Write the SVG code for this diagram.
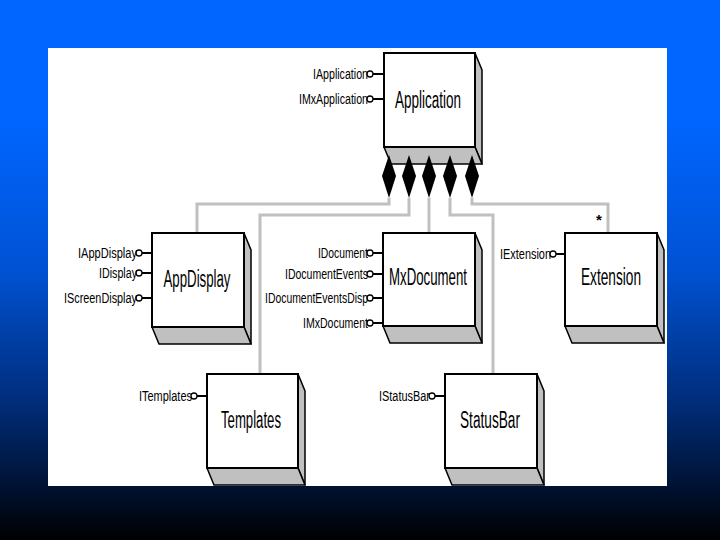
<svg xmlns="http://www.w3.org/2000/svg" width="720" height="540" viewBox="0 0 720 540">
<defs>
<linearGradient id="bg" x1="0" y1="0" x2="0" y2="1">
<stop offset="0" stop-color="#0066ff"/>
<stop offset="0.22" stop-color="#0066ff"/>
<stop offset="0.5" stop-color="#0052d4"/>
<stop offset="0.75" stop-color="#002c78"/>
<stop offset="0.9" stop-color="#001232"/>
<stop offset="1" stop-color="#000000"/>
</linearGradient>
<clipPath id="panel"><rect x="48" y="48" width="619" height="438"/></clipPath>
</defs>
<style>
.front{fill:#ffffff;stroke:#000;stroke-width:2}
.face{fill:#c0c0c0;stroke:#000;stroke-width:1.5;stroke-linejoin:miter}
.name{font-family:"Liberation Sans Narrow","Arial Narrow","Liberation Sans",Arial,sans-serif;font-size:23px;fill:#000;text-anchor:middle}
.ifl{font-family:"Liberation Sans Narrow","Arial Narrow","Liberation Sans",Arial,sans-serif;font-size:14px;fill:#000;text-anchor:end}
.stick{stroke:#000;stroke-width:2;fill:none}
.lolly{fill:#fff;stroke:#000;stroke-width:1.3}
.conn{fill:none;stroke:#c0c0c0;stroke-width:3}
.dia{fill:#000}
</style>
<rect x="0" y="0" width="720" height="540" fill="url(#bg)"/>
<rect x="48" y="48" width="619" height="438" fill="#ffffff"/>
<g id="connectors">
<polyline class="conn" points="389,198 389,204 197,204 197,233"/>
<polyline class="conn" points="409,198 409,215 260,215 260,374"/>
<polyline class="conn" points="429,198 429,233"/>
<polyline class="conn" points="450,198 450,215 493,215 493,374"/>
<polyline class="conn" points="472,198 472,204 608,204 608,233"/>
<text x="599" y="225" font-family="Liberation Sans, Arial, sans-serif" font-size="15" font-weight="bold" text-anchor="middle">*</text>
</g>
<g clip-path="url(#panel)">
<g id="application">
<polygon class="face" points="475,53 482,70 482,164 475,147"/>
<polygon class="face" points="384,147 475,147 482,164 391,164"/>
<rect class="front" x="384" y="53" width="91" height="94"/>
<text class="name" x="428" y="108" textLength="66" lengthAdjust="spacingAndGlyphs">Application</text>
<line class="stick" x1="373" y1="74" x2="384" y2="74"/>
<circle class="lolly" cx="370" cy="74" r="3"/>
<text class="ifl" x="368" y="79" textLength="55" lengthAdjust="spacingAndGlyphs">IApplication</text>
<line class="stick" x1="373" y1="99" x2="384" y2="99"/>
<circle class="lolly" cx="370" cy="99" r="3"/>
<text class="ifl" x="368" y="104" textLength="69" lengthAdjust="spacingAndGlyphs">IMxApplication</text>
</g>
<g id="aggregation-diamonds">
<polygon class="dia" points="389,155 396,176 389,198 382,176"/>
<polygon class="dia" points="409,155 416,176 409,198 402,176"/>
<polygon class="dia" points="429,155 436,176 429,198 422,176"/>
<polygon class="dia" points="450,155 457,176 450,198 443,176"/>
<polygon class="dia" points="472,155 479,176 472,198 465,176"/>
</g>
<g id="appdisplay">
<polygon class="face" points="244,233 251,250 251,344 244,327"/>
<polygon class="face" points="152,327 244,327 251,344 159,344"/>
<rect class="front" x="152" y="233" width="92" height="94"/>
<text class="name" x="197" y="287" textLength="67" lengthAdjust="spacingAndGlyphs">AppDisplay</text>
<line class="stick" x1="142" y1="253" x2="152" y2="253"/>
<circle class="lolly" cx="139" cy="253" r="3"/>
<text class="ifl" x="137" y="258" textLength="59" lengthAdjust="spacingAndGlyphs">IAppDisplay</text>
<line class="stick" x1="142" y1="273" x2="152" y2="273"/>
<circle class="lolly" cx="139" cy="273" r="3"/>
<text class="ifl" x="137" y="278" textLength="38" lengthAdjust="spacingAndGlyphs">IDisplay</text>
<line class="stick" x1="142" y1="298" x2="152" y2="298"/>
<circle class="lolly" cx="139" cy="298" r="3"/>
<text class="ifl" x="137" y="303" textLength="73" lengthAdjust="spacingAndGlyphs">IScreenDisplay</text>
</g>
<g id="mxdocument">
<polygon class="face" points="475,233 482,250 482,343 475,326"/>
<polygon class="face" points="383,326 475,326 482,343 390,343"/>
<rect class="front" x="383" y="233" width="92" height="93"/>
<text class="name" x="428" y="285" textLength="78" lengthAdjust="spacingAndGlyphs">MxDocument</text>
<line class="stick" x1="373" y1="253" x2="383" y2="253"/>
<circle class="lolly" cx="370" cy="253" r="3"/>
<text class="ifl" x="368" y="258" textLength="50" lengthAdjust="spacingAndGlyphs">IDocument</text>
<line class="stick" x1="373" y1="274" x2="383" y2="274"/>
<circle class="lolly" cx="370" cy="274" r="3"/>
<text class="ifl" x="368" y="279" textLength="83" lengthAdjust="spacingAndGlyphs">IDocumentEvents</text>
<line class="stick" x1="373" y1="298" x2="383" y2="298"/>
<circle class="lolly" cx="370" cy="298" r="3"/>
<text class="ifl" x="368" y="303" textLength="103" lengthAdjust="spacingAndGlyphs">IDocumentEventsDisp</text>
<line class="stick" x1="373" y1="323" x2="383" y2="323"/>
<circle class="lolly" cx="370" cy="323" r="3"/>
<text class="ifl" x="368" y="328" textLength="65" lengthAdjust="spacingAndGlyphs">IMxDocument</text>
</g>
<g id="extension">
<polygon class="face" points="657,233 664,250 664,343 657,326"/>
<polygon class="face" points="565,326 657,326 664,343 572,343"/>
<rect class="front" x="565" y="233" width="92" height="93"/>
<text class="name" x="611" y="285" textLength="60" lengthAdjust="spacingAndGlyphs">Extension</text>
<line class="stick" x1="556" y1="254" x2="565" y2="254"/>
<circle class="lolly" cx="553" cy="254" r="3"/>
<text class="ifl" x="551" y="259" textLength="51" lengthAdjust="spacingAndGlyphs">IExtension</text>
</g>
<g id="templates">
<polygon class="face" points="298,374 305,391 305,485 298,468"/>
<polygon class="face" points="207,468 298,468 305,485 214,485"/>
<rect class="front" x="207" y="374" width="91" height="94"/>
<text class="name" x="251" y="428" textLength="60" lengthAdjust="spacingAndGlyphs">Templates</text>
<line class="stick" x1="197" y1="396" x2="207" y2="396"/>
<circle class="lolly" cx="194" cy="396" r="3"/>
<text class="ifl" x="192" y="401" textLength="53" lengthAdjust="spacingAndGlyphs">ITemplates</text>
</g>
<g id="statusbar">
<polygon class="face" points="537,374 544,391 544,485 537,468"/>
<polygon class="face" points="445,468 537,468 544,485 452,485"/>
<rect class="front" x="445" y="374" width="92" height="94"/>
<text class="name" x="490" y="428" textLength="60" lengthAdjust="spacingAndGlyphs">StatusBar</text>
<line class="stick" x1="435" y1="396" x2="445" y2="396"/>
<circle class="lolly" cx="432" cy="396" r="3"/>
<text class="ifl" x="430" y="401" textLength="51" lengthAdjust="spacingAndGlyphs">IStatusBar</text>
</g>
</g>
</svg>
